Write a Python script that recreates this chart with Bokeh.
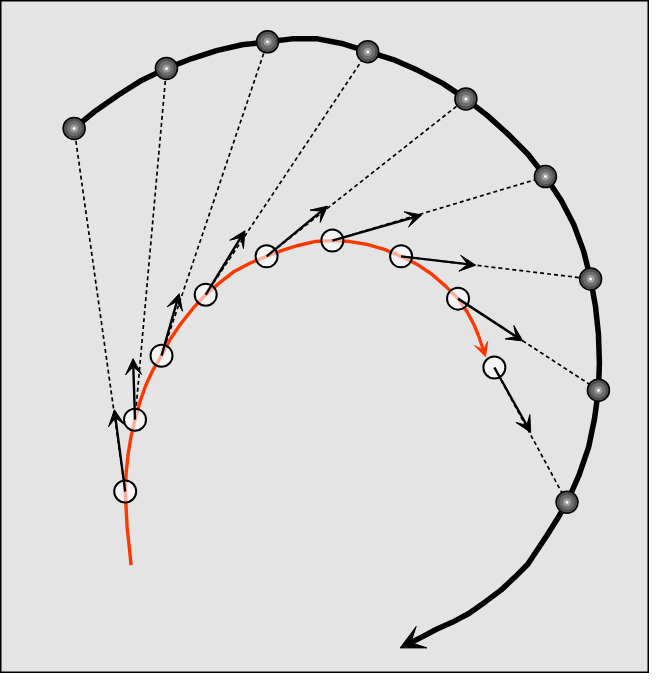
from bokeh.plotting import figure
from bokeh.models import ColumnDataSource, Arrow, VeeHead, Range1d
from bokeh.embed import file_html
from bokeh.resources import INLINE

# Red (inner) path (x right, y down)
red_x = [136, 134, 132, 131, 130, 131, 133, 136, 140, 145, 151, 158, 167, 176, 187, 199, 212, 226, 240,
         257, 274, 290, 306, 323, 341, 359, 377, 394, 411, 427, 442, 456, 469, 478, 485, 490]
red_y = [578, 558, 540, 521, 503, 484, 465, 447, 430, 412, 395, 380, 365, 348, 332, 317, 303, 291, 280,
         271, 264, 258, 253, 249, 248, 249, 252, 257, 264, 272, 282, 294, 307, 320, 333, 345]
red_tip = (497, 366)

# Inner sample points on the red path
inner_x = [130, 140, 167, 212, 274, 341, 411, 469, 506]
inner_y = [503, 430, 365, 303, 264, 248, 264, 307, 377]

# Outer black path
outer_x = [78, 100, 123, 147, 172, 198, 223, 249, 275, 300, 326, 352, 377, 403, 428, 453, 477, 499, 520, 540,
           558, 574, 587, 597, 604, 609, 612, 613, 612, 608, 602, 592, 580, 570, 560, 550, 540, 527, 513,
           497, 480, 463, 447, 432]
outer_y = [134, 116, 100, 85, 73, 63, 55, 49, 46, 43, 43, 48, 56, 64, 75, 88, 104, 121, 140, 160,
           183, 207, 232, 259, 287, 315, 343, 372, 400, 429, 458, 487, 514, 531, 547, 562, 577, 590, 603,
           615, 627, 636, 643, 651]
outer_tip = (410, 662)

# Outer sample points (spheres)
sph_x = [78, 172, 275, 377, 477, 558, 604, 612, 580]
sph_y = [134, 73, 46, 56, 104, 183, 287, 400, 514]

# Arrow tips from each inner point toward its outer point
arr_x = [119, 138, 185, 252, 336, 432, 487, 535, 543]
arr_y = [420, 368, 302, 238, 213, 222, 273, 350, 443]

p = figure(width=649, height=673, output_backend="svg", toolbar_location=None,
           x_range=Range1d(3, 664), y_range=Range1d(688, 4),
           min_border=0)
p.axis.visible = False
p.grid.visible = False
p.background_fill_color = "#e4e4e4"
p.border_fill_color = "white"
p.outline_line_color = "black"
p.outline_line_width = 2

# dashed connectors
p.segment(x0=inner_x, y0=inner_y, x1=sph_x, y1=sph_y, line_color="black",
          line_width=1.7, line_dash="4 3")

# velocity arrows
asrc = ColumnDataSource(dict(x0=inner_x, y0=inner_y, x1=arr_x, y1=arr_y))
p.add_layout(Arrow(source=asrc, x_start="x0", y_start="y0", x_end="x1", y_end="y1",
                   line_color="black", line_width=2.4,
                   end=VeeHead(size=16, fill_color="black", line_color="black", line_width=1)))

# red path
p.line(red_x, red_y, line_color="#ff3800", line_width=3.4, line_join="round")
p.add_layout(Arrow(x_start=red_x[-1], y_start=red_y[-1], x_end=red_tip[0], y_end=red_tip[1],
                   line_color="#ff3800", line_width=3.2,
                   end=VeeHead(size=14, fill_color="#ff3800", line_color="#ff3800", line_width=1)))

# outer path
p.line(outer_x, outer_y, line_color="black", line_width=5.5, line_join="round")
p.add_layout(Arrow(x_start=outer_x[-1], y_start=outer_y[-1], x_end=outer_tip[0], y_end=outer_tip[1],
                   line_color="black", line_width=5.5,
                   end=VeeHead(size=24, fill_color="black", line_color="black", line_width=1)))

# inner circles
p.scatter(inner_x, inner_y, size=22, fill_color="white", fill_alpha=0.6,
          line_color="black", line_width=2)

# spheres
p.scatter(sph_x, sph_y, size=22, fill_color="#505050", line_color="black", line_width=1.5)
p.scatter(sph_x, sph_y, size=15, fill_color="#6e6e6e", line_color=None)
p.scatter(sph_x, sph_y, size=8, fill_color="#9a9a9a", line_color=None)
p.scatter(sph_x, sph_y, size=3, fill_color="white", line_color=None)

open("out.html", "w").write(file_html(p, INLINE))
